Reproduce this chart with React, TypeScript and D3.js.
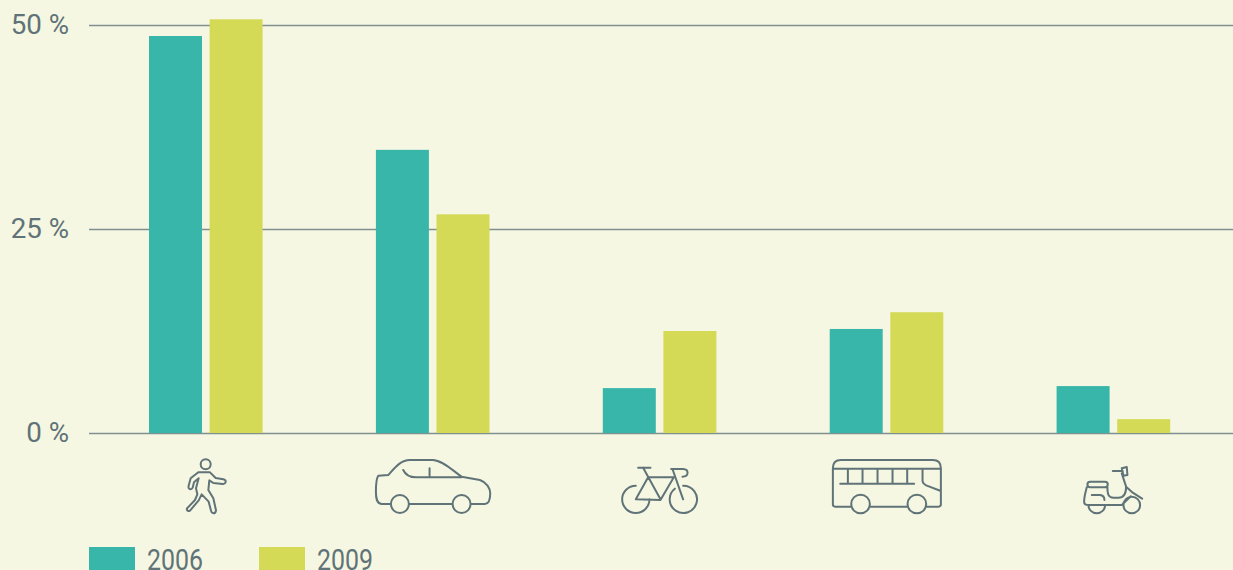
import { useRef, useEffect } from "react";
import * as d3 from "d3";

const categories = ["walk", "car", "bike", "bus", "scooter"];
const years = ["2006", "2009"];
const values2006 = [48.65, 34.7, 5.5, 12.75, 5.75];
const values2009 = [50.7, 26.8, 12.5, 14.8, 1.7];
const yTicks = [0, 25, 50];

const W = 1233;
const H = 570;
const BG = "#f6f7e2";
const INK = "#5f7378";
const colors: Record<string, string> = { "2006": "#38b6aa", "2009": "#d4da56" };

// icon outlines, drawn at 3x and scaled down; dx is relative to the category centre
const icons: Record<string, { dx: number; y: number; d: string }> = {
  walk: {
    dx: -46,
    y: 445,
    d: `M152 58a15 15 0 1 1-30 0a15 15 0 1 1 30 0Z
      M115 82L150 82L167 99L190 103Q198 105 197 111Q195 118 188 117L160 114L148 106L145 135L160 160L168 196Q167 205 160 205Q154 204 153 197L146 170L125 148L116 166L90 197Q84 200 81 195Q79 190 84 187L105 165L112 148L108 130L116 100L102 112L98 128Q95 134 89 132Q84 130 86 122L92 100Z`,
  },
  car: {
    dx: -273,
    y: 445,
    d: `M692 177L665 177C650 175 648 160 648 140C648 115 650 100 655 92L685 90C705 68 722 45 750 45L820 45C850 47 880 78 905 95L960 105C980 112 991 130 991 145C991 165 988 177 975 177L935 177
      M878 177L748 177
      M747 177a27 27 0 1 1-54 0a27 27 0 1 1 54 0Z
      M932 177a27 27 0 1 1-54 0a27 27 0 1 1 54 0Z
      M730 75C738 92 750 97 768 97L905 97
      M809 70L809 97`,
  },
  bike: {
    dx: -50,
    y: 445,
    d: `M78 122A41 41 0 1 0 119 163
      M195 131A41 41 0 1 0 220 122
      M100 68L152 163
      M115 97L192 97L152 165L78 163L115 97
      M85 68L122 68
      M220 163L188 72
      M184 72L220 72C238 73 238 95 218 95`,
  },
  bus: {
    dx: -276.5,
    y: 445,
    d: `M722 185L675 185Q668 185 668 178L668 70Q668 45 692 45L968 45Q992 45 992 70L992 178Q992 185 985 185L949 185
      M892 185L780 185
      M779 177a28 28 0 1 1-56 0a28 28 0 1 1 56 0Z
      M948 177a28 28 0 1 1-56 0a28 28 0 1 1 56 0Z
      M668 71L992 71
      M690 116L912 116
      M713 71L713 116M757 71L757 116M802 71L802 116M847 71L847 116M891 71L891 116
      M937 71L937 108Q938 116 948 121L992 138`,
  },
  scooter: {
    dx: -43.5,
    y: 455,
    d: `M60 80L105 80Q113 80 113 88Q113 97 105 97L60 97Q52 97 52 88Q52 80 60 80Z
      M50 97C46 112 42 125 42 140Q42 150 55 150L155 150L182 124
      M155 55L168 95L188 113L216 131
      M112 97C112 118 115 128 130 128L145 128C160 128 168 118 168 95
      M65 120L90 120C100 121 103 126 103 135
      M55 150A25 25 0 0 0 105 150
      M210 150a25 25 0 1 1-50 0a25 25 0 1 1 50 0Z
      M128 48L158 48
      M155 40L170 36L172 60L160 62Z`,
  },
};

export default function App() {
  const svgRef = useRef<SVGSVGElement>(null);

  useEffect(() => {
    const svg = d3.select(svgRef.current);
    svg.selectAll("*").remove();

    const x = d3.scaleBand<string>().domain(categories).range([92.55, 1227.05]);
    const inner = d3.scaleBand<string>().domain(years).range([-57, 56.6]).paddingInner(7.6 / 60.6);
    const y = d3.scaleLinear().domain([0, 50]).range([433, 25]);
    // Roboto is wider than the condensed face in the picture, so squeeze it a little
    const textStyle = (sel: any, size: number, squeeze: number) => {
      sel.attr("font-family", "Roboto, sans-serif").attr("font-weight", 400).attr("fill", INK).attr("font-size", size);
      sel.each(function (this: SVGTextElement) {
        this.setAttribute("textLength", String(this.getComputedTextLength() * squeeze));
        this.setAttribute("lengthAdjust", "spacingAndGlyphs");
      });
    };

    svg.append("rect").attr("width", W).attr("height", H).attr("fill", BG);

    // Grid and y labels
    svg.append("g")
      .attr("transform", "translate(89,0)")
      .call(d3.axisLeft(y).tickValues(yTicks).tickSize(-(W - 89)).tickPadding(20).tickFormat(d => `${d} %`))
      .call(el => {
        el.select(".domain").remove();
        el.selectAll("line").attr("stroke", "#7f9090").attr("stroke-width", 1.6);
        el.selectAll("text").attr("dy", "0.32em").call(textStyle, 28, 0.99);
      });

    // Bars
    const series = [values2006, values2009];
    years.forEach((yr, i) => {
      svg.append("g").selectAll("rect").data(series[i]).enter().append("rect")
        .attr("x", (_, j) => (x(categories[j]) ?? 0) + x.bandwidth() / 2 + (inner(yr) ?? 0))
        .attr("width", inner.bandwidth())
        .attr("y", d => y(d))
        .attr("height", d => y(0) - y(d))
        .attr("fill", colors[yr]);
    });

    // Icons
    categories.forEach(c => {
      const ic = icons[c];
      svg.append("path")
        .attr("transform", `translate(${(x(c) ?? 0) + x.bandwidth() / 2 + ic.dx},${ic.y}) scale(${1 / 3})`)
        .attr("d", ic.d)
        .attr("fill", "none")
        .attr("stroke", INK)
        .attr("stroke-width", 6)
        .attr("stroke-linejoin", "round")
        .attr("stroke-linecap", "round");
    });

    // Legend
    years.forEach((yr, i) => {
      const lg = svg.append("g").attr("transform", `translate(${89 + i * 170},547)`);
      lg.append("rect").attr("width", 46).attr("height", 23).attr("fill", colors[yr]);
      lg.append("text").attr("x", 58).attr("y", 22.5).text(yr).call(textStyle, 30, 0.83);
    });
  }, []);

  return (
    <svg
      ref={svgRef}
      width={W}
      height={H}
      style={{ position: "absolute", left: 0, top: 0, display: "block" }}
    />
  );
}
